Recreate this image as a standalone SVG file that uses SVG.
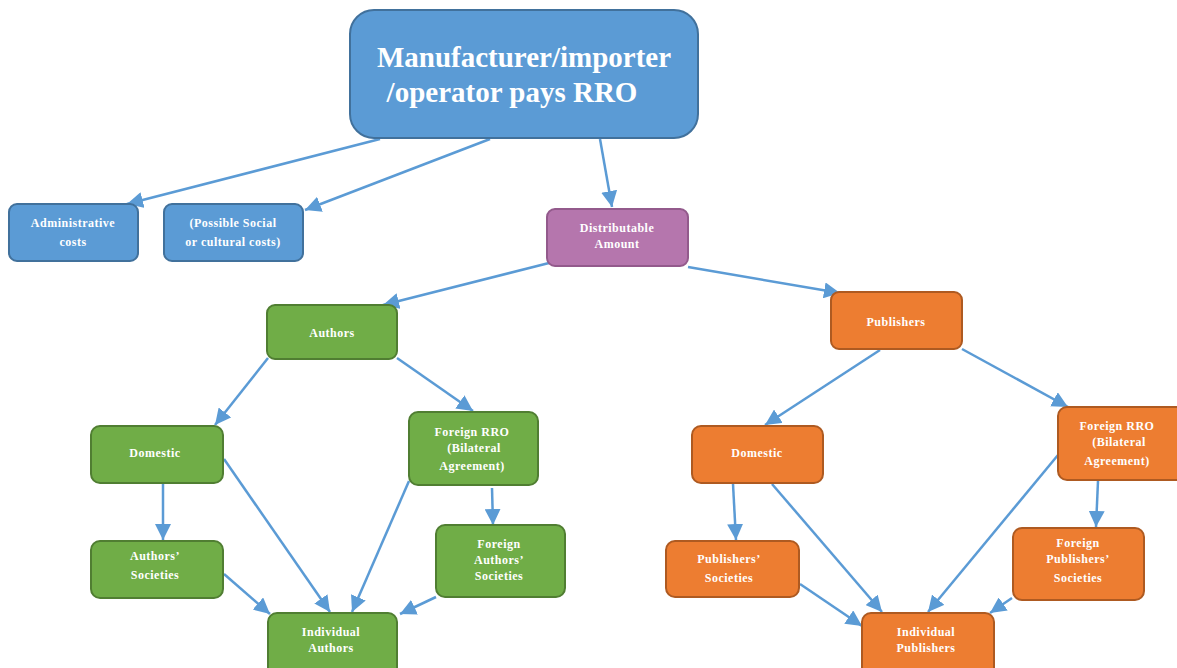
<svg xmlns="http://www.w3.org/2000/svg" width="1177" height="668" viewBox="0 0 1177 668">
<style>
.t{font-family:"Liberation Serif","Times New Roman",serif;font-weight:bold;fill:#fff;text-anchor:middle}
.s{font-size:12px;letter-spacing:0.5px}
.b{fill:#5b9bd5;stroke:#41719c;stroke-width:2}
.g{fill:#70ad47;stroke:#507e32;stroke-width:2}
.o{fill:#ed7d31;stroke:#ae5a21;stroke-width:2}
.p{fill:#b576ad;stroke:#935a8c;stroke-width:2}
.c line{stroke:#5b9bd5;stroke-width:2.5;marker-end:url(#ah)}
</style>
<defs>
<marker id="ah" markerUnits="userSpaceOnUse" markerWidth="17" markerHeight="16" refX="16" refY="8" orient="auto">
<path d="M0,0 L16,8 L0,16 Z" fill="#5b9bd5"/>
</marker>
</defs>
<rect width="1177" height="668" fill="#fff"/>
<g class="c" id="connectors">
<line x1="380" y1="139" x2="127" y2="204"/>
<line x1="490" y1="139" x2="305" y2="210"/>
<line x1="600" y1="139" x2="612" y2="207"/>
<line x1="549" y1="263" x2="383" y2="305"/>
<line x1="688" y1="267" x2="840" y2="293"/>
<line x1="268" y1="358" x2="215" y2="425"/>
<line x1="397" y1="358" x2="473" y2="411"/>
<line x1="163" y1="484" x2="163" y2="540"/>
<line x1="224" y1="459" x2="330" y2="612"/>
<line x1="409" y1="481" x2="352" y2="612"/>
<line x1="492" y1="488" x2="493" y2="525"/>
<line x1="224" y1="574" x2="270" y2="614"/>
<line x1="436" y1="597" x2="400" y2="614"/>
<line x1="880" y1="350" x2="765" y2="425"/>
<line x1="962" y1="349" x2="1068" y2="407"/>
<line x1="733" y1="484" x2="736" y2="540"/>
<line x1="772" y1="484" x2="882" y2="612"/>
<line x1="1058" y1="455" x2="928" y2="612"/>
<line x1="1098" y1="481" x2="1096" y2="527"/>
<line x1="800" y1="584" x2="862" y2="626"/>
<line x1="1012" y1="598" x2="990" y2="613"/>
</g>
<g id="top"><rect class="b" x="350" y="10" width="348" height="128" rx="24"/>
<text class="t" x="524" y="67" font-size="29">Manufacturer/importer</text>
<text class="t" x="512" y="102" font-size="29">/operator pays RRO</text></g>
<g id="admin"><rect class="b" x="9" y="204" width="129" height="57" rx="8"/>
<text class="t s" x="73" y="227">Administrative</text><text class="t s" x="73" y="246">costs</text></g>
<g id="social"><rect class="b" x="164" y="204" width="139" height="57" rx="8"/>
<text class="t s" x="233" y="227">(Possible Social</text><text class="t s" x="233" y="246">or cultural costs)</text></g>
<g id="distributable"><rect class="p" x="547" y="209" width="141" height="57" rx="8"/>
<text class="t s" x="617" y="232">Distributable</text><text class="t s" x="617" y="248">Amount</text></g>
<g id="authors"><rect class="g" x="267" y="305" width="130" height="54" rx="8"/>
<text class="t s" x="332" y="337">Authors</text></g>
<g id="publishers"><rect class="o" x="831" y="292" width="131" height="57" rx="8"/>
<text class="t s" x="896" y="326">Publishers</text></g>
<g id="a-domestic"><rect class="g" x="91" y="426" width="132" height="57" rx="9"/>
<text class="t s" x="155" y="457">Domestic</text></g>
<g id="a-foreign"><rect class="g" x="409" y="412" width="129" height="73" rx="9"/>
<text class="t s" x="472" y="436">Foreign RRO</text><text class="t s" x="474" y="452">(Bilateral</text><text class="t s" x="472" y="470">Agreement)</text></g>
<g id="a-soc"><rect class="g" x="91" y="541" width="132" height="57" rx="9"/>
<text class="t s" x="155" y="560">Authors’</text><text class="t s" x="155" y="579">Societies</text></g>
<g id="a-fsoc"><rect class="g" x="436" y="525" width="129" height="72" rx="9"/>
<text class="t s" x="499" y="548">Foreign</text><text class="t s" x="499" y="564">Authors’</text><text class="t s" x="499" y="580">Societies</text></g>
<g id="a-ind"><rect class="g" x="268" y="613" width="129" height="65" rx="9"/>
<text class="t s" x="331" y="636">Individual</text><text class="t s" x="331" y="652">Authors</text></g>
<g id="p-domestic"><rect class="o" x="692" y="426" width="131" height="57" rx="9"/>
<text class="t s" x="757" y="457">Domestic</text></g>
<g id="p-foreign"><rect class="o" x="1058" y="407" width="130" height="73" rx="9"/>
<text class="t s" x="1117" y="430">Foreign RRO</text><text class="t s" x="1119" y="446">(Bilateral</text><text class="t s" x="1117" y="465">Agreement)</text></g>
<g id="p-soc"><rect class="o" x="666" y="541" width="133" height="56" rx="9"/>
<text class="t s" x="729" y="563">Publishers’</text><text class="t s" x="729" y="582">Societies</text></g>
<g id="p-fsoc"><rect class="o" x="1013" y="528" width="131" height="72" rx="9"/>
<text class="t s" x="1078" y="547">Foreign</text><text class="t s" x="1078" y="563">Publishers’</text><text class="t s" x="1078" y="582">Societies</text></g>
<g id="p-ind"><rect class="o" x="862" y="613" width="132" height="65" rx="9"/>
<text class="t s" x="926" y="636">Individual</text><text class="t s" x="926" y="652">Publishers</text></g>
</svg>
